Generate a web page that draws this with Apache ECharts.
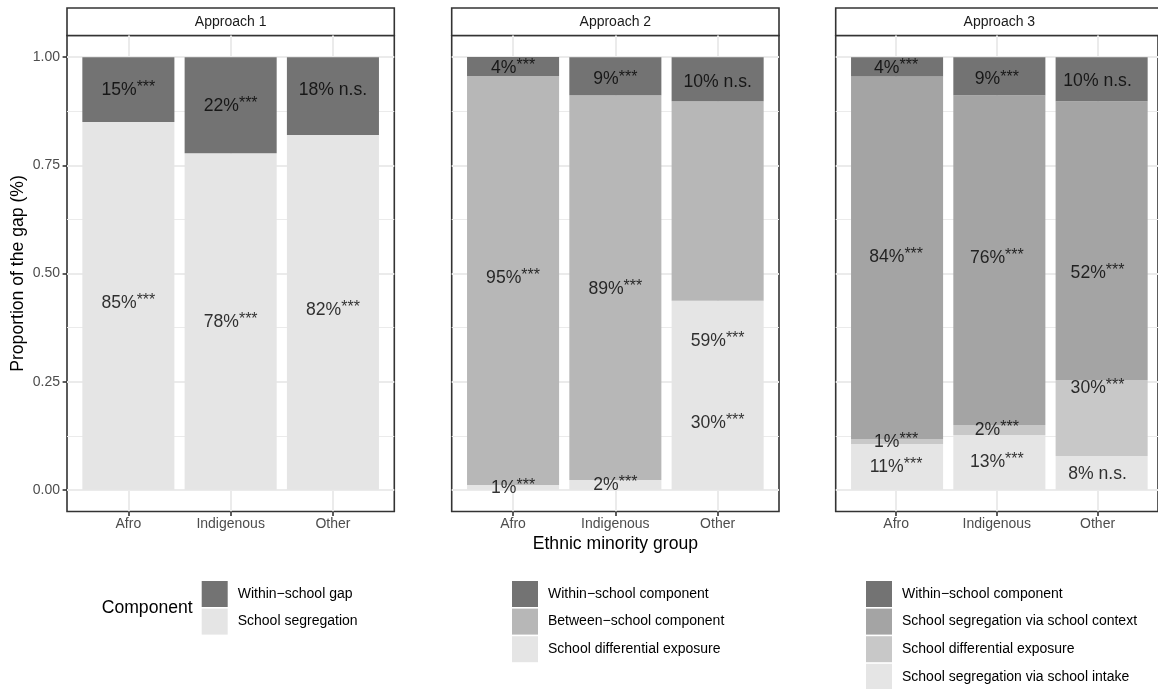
<!DOCTYPE html>
<html><head><meta charset="utf-8">
<script src="https://cdn.jsdelivr.net/npm/echarts@6/dist/echarts.min.js"></script>
<style>html,body{margin:0;padding:0;background:#fff}#c{width:1158px;height:689px}</style>
</head><body><div id="c"></div>
<script>
// ---------- data ----------
const categories = ['Afro', 'Indigenous', 'Other'];
const yTicks = [0, 0.25, 0.5, 0.75, 1];
const yMinorTicks = [0.125, 0.375, 0.625, 0.875];
const panelTitles = ['Approach 1', 'Approach 2', 'Approach 3'];

// Approach 1
const a1Within = [0.150, 0.222, 0.180];
const a1Segregation = [0.850, 0.778, 0.820];
const a1WithinLabels = ['15%***', '22%***', '18% n.s.'];
const a1SegregationLabels = ['85%***', '78%***', '82%***'];
const a1WithinLabelY = [0.924, 0.887, 0.924];
const a1SegregationLabelY = [0.432, 0.388, 0.416];

// Approach 2
const a2Within = [0.044, 0.088, 0.102];
const a2Between = [0.945, 0.889, 0.461];
const a2Differential = [0.0115, 0.023, 0.437];
const a2WithinLabels = ['4%***', '9%***', '10% n.s.'];
const a2BetweenLabels = ['95%***', '89%***', '59%***'];
const a2DifferentialLabels = ['1%***', '2%***', '30%***'];
const a2WithinLabelY = [0.975, 0.949, 0.942];
const a2BetweenLabelY = [0.490, 0.464, 0.344];
const a2DifferentialLabelY = [0.005, 0.012, 0.155];

// Approach 3
const a3Within = [0.044, 0.088, 0.102];
const a3Context = [0.838, 0.762, 0.644];
const a3Differential = [0.0115, 0.023, 0.176];
const a3Intake = [0.106, 0.127, 0.078];
const a3WithinLabels = ['4%***', '9%***', '10% n.s.'];
const a3ContextLabels = ['84%***', '76%***', '52%***'];
const a3DifferentialLabels = ['1%***', '2%***', '30%***'];
const a3IntakeLabels = ['11%***', '13%***', '8% n.s.'];
const a3WithinLabelY = [0.975, 0.949, 0.945];
const a3ContextLabelY = [0.538, 0.536, 0.501];
const a3DifferentialLabelY = [0.111, 0.139, 0.236];
const a3IntakeLabelY = [0.053, 0.065, 0.037];

// ---------- styling / layout ----------
const FONT = '"Liberation Sans", Arial, Helvetica, sans-serif';
const MINUS = '\u2212';
const C_DARK = '#737373', C_MID1 = '#a4a4a4', C_MID = '#b7b7b7', C_MID2 = '#c8c8c8', C_LIGHT = '#e5e5e5';
const panelLefts = [67, 451.7, 835.7];
const panelTop = 35.5, panelW = 327.3, panelH = 476;

// series are listed bottom -> top
const panels = [
  [
    {name: 'School segregation', color: C_LIGHT, values: a1Segregation, labels: a1SegregationLabels, labelY: a1SegregationLabelY},
    {name: 'Within' + MINUS + 'school gap', color: C_DARK, values: a1Within, labels: a1WithinLabels, labelY: a1WithinLabelY}
  ],
  [
    {name: 'School differential exposure', color: C_LIGHT, values: a2Differential, labels: a2DifferentialLabels, labelY: a2DifferentialLabelY},
    {name: 'Between' + MINUS + 'school component', color: C_MID, values: a2Between, labels: a2BetweenLabels, labelY: a2BetweenLabelY},
    {name: 'Within' + MINUS + 'school component', color: C_DARK, values: a2Within, labels: a2WithinLabels, labelY: a2WithinLabelY}
  ],
  [
    {name: 'School segregation via school intake', color: C_LIGHT, values: a3Intake, labels: a3IntakeLabels, labelY: a3IntakeLabelY},
    {name: 'School differential exposure', color: C_MID2, values: a3Differential, labels: a3DifferentialLabels, labelY: a3DifferentialLabelY},
    {name: 'School segregation via school context', color: C_MID1, values: a3Context, labels: a3ContextLabels, labelY: a3ContextLabelY},
    {name: 'Within' + MINUS + 'school component', color: C_DARK, values: a3Within, labels: a3WithinLabels, labelY: a3WithinLabelY}
  ]
];

function richText(t) {
  if (t.endsWith('***')) return '{m|' + t.slice(0, -3) + '}{s|***}';
  return '{m|' + t + '}';
}

const grid = [], xAxis = [], yAxis = [], series = [], graphic = [];
// background grids (frame, gridlines, ticks, labels): indices 0..2
panels.forEach((p, i) => {
  grid.push({left: panelLefts[i], top: panelTop, width: panelW, height: panelH,
    show: true, borderColor: '#333333', borderWidth: 1.6, backgroundColor: '#ffffff', containLabel: false});
  xAxis.push({gridIndex: i, type: 'value', min: 0.4, max: 3.6,
    axisLine: {show: false, onZero: false},
    axisTick: {show: true, customValues: [1, 2, 3], length: 4.4, lineStyle: {color: '#333333', width: 1.6}},
    axisLabel: {show: true, customValues: [1, 2, 3], formatter: v => categories[Math.round(v) - 1] || '',
      color: '#4d4d4d', fontSize: 14, fontFamily: FONT, margin: 6},
    splitLine: {show: true, lineStyle: {color: '#ebebeb', width: 2}}});
  yAxis.push({gridIndex: i, type: 'value', min: -0.05, max: 1.05,
    axisLine: {show: false, onZero: false},
    axisTick: {show: i === 0, customValues: yTicks, length: 4.4, lineStyle: {color: '#333333', width: 1.6}},
    axisLabel: {show: i === 0, customValues: yTicks, formatter: v => v.toFixed(2),
      color: '#4d4d4d', fontSize: 14, fontFamily: FONT, margin: 7},
    splitLine: {show: true, lineStyle: {color: '#ebebeb', width: 2}}});
  yAxis.push({gridIndex: i, type: 'value', min: -0.05, max: 1.05, position: 'left',
    axisLine: {show: false, onZero: false},
    axisTick: {show: false, customValues: yMinorTicks},
    axisLabel: {show: false, customValues: yMinorTicks},
    splitLine: {show: true, lineStyle: {color: '#ebebeb', width: 1}}});
});
// bar grids (category bands of the panel's 0.5..3.5 range): indices 3..5
panels.forEach((p, i) => {
  const gi = 3 + i;
  grid.push({left: panelLefts[i] + panelW * 0.1 / 3.2, top: panelTop, width: panelW * 3 / 3.2, height: panelH,
    show: false, containLabel: false});
  xAxis.push({gridIndex: gi, type: 'category', data: categories, show: false, boundaryGap: true,
    splitLine: {show: false}});
  yAxis.push({gridIndex: gi, type: 'value', min: -0.05, max: 1.05, show: false, splitLine: {show: false}});
  p.forEach(s => {
    series.push({type: 'bar', name: s.name, xAxisIndex: gi, yAxisIndex: 6 + i, stack: 'p' + i,
      barWidth: '90%', itemStyle: {color: s.color}, silent: true, data: s.values});
  });
});
// value labels on the frame grids
panels.forEach((p, i) => {
  p.forEach(s => {
    series.push({type: 'scatter', xAxisIndex: i, yAxisIndex: 2 * i, symbolSize: 0, silent: true, z: 10,
      data: s.labelY.map((y, j) => ({value: [j + 1, y], text: s.labels[j]})),
      label: {show: true, position: 'inside', formatter: q => richText(q.data.text),
        rich: {
          m: {fontSize: 17.6, lineHeight: 20, color: '#000', fontFamily: FONT},
          s: {fontSize: 16, lineHeight: 16, verticalAlign: 'top', color: '#000', fontFamily: FONT}
        }}});
  });
  graphic.push({type: 'rect', shape: {x: panelLefts[i], y: 8, width: panelW, height: 27.5},
    style: {fill: '#ffffff', stroke: '#333333', lineWidth: 1.6}, silent: true});
  graphic.push({type: 'text', x: panelLefts[i] + panelW / 2, y: 22,
    style: {text: panelTitles[i], align: 'center', verticalAlign: 'middle', fontSize: 14, fill: '#1a1a1a', fontFamily: FONT}, silent: true});
});

graphic.push({type: 'text', x: 18.5, y: 273.5, rotation: Math.PI / 2,
  style: {text: 'Proportion of the gap (%)', align: 'center', verticalAlign: 'middle', fontSize: 17.6, fill: '#000', fontFamily: FONT}, silent: true});
graphic.push({type: 'text', x: panelLefts[1] + panelW / 2, y: 544,
  style: {text: 'Ethnic minority group', align: 'center', verticalAlign: 'middle', fontSize: 17.6, fill: '#000', fontFamily: FONT}, silent: true});
graphic.push({type: 'text', x: 101.7, y: 608,
  style: {text: 'Component', align: 'left', verticalAlign: 'middle', fontSize: 17.6, fill: '#000', fontFamily: FONT}, silent: true});

function legendOf(left, items) {
  return {orient: 'vertical', left: left, top: 581, height: 160, itemWidth: 26, itemHeight: 26, itemGap: 1.6,
    icon: 'rect', selectedMode: false, padding: 0,
    textStyle: {fontSize: 14, color: '#000', fontFamily: FONT, padding: [0, 0, 0, 5]},
    data: items.map(it => ({name: it[0], itemStyle: {color: it[1], borderWidth: 0}}))};
}
const legend = [
  legendOf(201.7, [['Within' + MINUS + 'school gap', C_DARK], ['School segregation', C_LIGHT]]),
  legendOf(512, [['Within' + MINUS + 'school component', C_DARK], ['Between' + MINUS + 'school component', C_MID], ['School differential exposure', C_LIGHT]]),
  legendOf(866, [['Within' + MINUS + 'school component', C_DARK], ['School segregation via school context', C_MID1], ['School differential exposure', C_MID2], ['School segregation via school intake', C_LIGHT]])
];

const chart = echarts.init(document.getElementById('c'), null, {renderer: 'canvas'});
chart.setOption({animation: false, backgroundColor: '#ffffff', grid, xAxis, yAxis, series, legend, graphic});
</script>
</body></html>
